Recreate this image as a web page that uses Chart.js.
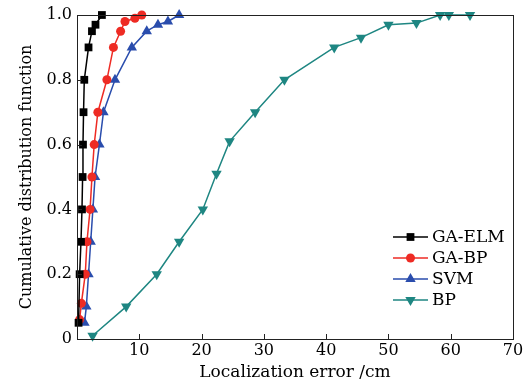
<!DOCTYPE html>
<html>
<head>
<meta charset="utf-8">
<script src="https://cdn.jsdelivr.net/npm/chart.js@4/dist/chart.umd.min.js"></script>
<style>
  html, body { margin: 0; padding: 0; background: #fff; }
  #wrap { width: 530px; height: 383px; }
</style>
</head>
<body>
<div id="wrap"><canvas id="cdf" width="530" height="383"></canvas></div>
<script>
// series (x: localization error in cm, y: cumulative probability)
const seriesNames = ['GA-ELM', 'GA-BP', 'SVM', 'BP'];

const gaElmX = [0.25, 0.42, 0.64, 0.8, 0.9, 0.96, 1.05, 1.17, 1.85, 2.4, 2.97, 4.0];
const gaElmY = [0.05, 0.2, 0.3, 0.4, 0.5, 0.6, 0.7, 0.8, 0.9, 0.95, 0.97, 1.0];

const gaBpX = [0.42, 0.7, 1.33, 1.6, 2.1, 2.4, 2.76, 3.35, 4.8, 5.85, 7.0, 7.7, 9.3, 10.4];
const gaBpY = [0.06, 0.11, 0.2, 0.3, 0.4, 0.5, 0.6, 0.7, 0.8, 0.9, 0.95, 0.98, 0.99, 1.0];

const svmX = [1.2, 1.5, 1.85, 2.2, 2.55, 2.9, 3.6, 4.25, 6.1, 8.8, 11.2, 13.0, 14.6, 16.4];
const svmY = [0.05, 0.1, 0.2, 0.3, 0.4, 0.5, 0.6, 0.7, 0.8, 0.9, 0.95, 0.97, 0.98, 1.0];

const bpX = [2.5, 7.9, 12.8, 16.4, 20.2, 22.4, 24.5, 28.6, 33.3, 41.3, 45.6, 50.0, 54.5, 58.3, 59.7, 63.1];
const bpY = [0.01, 0.1, 0.2, 0.3, 0.4, 0.51, 0.61, 0.7, 0.8, 0.9, 0.93, 0.97, 0.975, 1.0, 1.0, 1.0];

const xTicks = [0, 10, 20, 30, 40, 50, 60, 70];
const yTicks = [0, 0.2, 0.4, 0.6, 0.8, 1.0];

const SERIF = "'DejaVu Serif', serif";

function pts(xs, ys) {
  return xs.map((x, i) => ({ x, y: ys[i] }));
}

function serie(label, xs, ys, color, style, radius, rotation) {
  return {
    label,
    data: pts(xs, ys),
    showLine: true,
    borderColor: color,
    backgroundColor: color,
    borderWidth: 1.5,
    pointStyle: style,
    pointRadius: radius,
    pointRotation: rotation || 0,
    pointBorderWidth: 0,
    pointBackgroundColor: color,
    clip: false,
  };
}

// moldura + ticks para dentro + legenda dentro do gráfico
const framePlugin = {
  id: 'frame',
  afterDraw(chart) {
    const { ctx, chartArea: a, scales } = chart;
    ctx.save();
    ctx.strokeStyle = '#222';
    ctx.lineWidth = 1;
    ctx.strokeRect(a.left + 0.5, a.top + 0.5, a.right - a.left, a.bottom - a.top);

    ctx.beginPath();
    xTicks.slice(1, -1).forEach(v => {
      const px = Math.round(scales.x.getPixelForValue(v)) + 0.5;
      ctx.moveTo(px, a.bottom);
      ctx.lineTo(px, a.bottom - 5);
    });
    yTicks.slice(1, -1).forEach(v => {
      const py = Math.round(scales.y.getPixelForValue(v)) + 0.5;
      ctx.moveTo(a.left, py);
      ctx.lineTo(a.left + 5, py);
    });
    ctx.stroke();

    // legenda
    const lx0 = 393, lx1 = 428, tx = 432;
    const rowY = [237, 258, 279, 300];
    ctx.font = '17px ' + SERIF;
    ctx.textBaseline = 'middle';
    ctx.textAlign = 'left';
    chart.data.datasets.forEach((ds, i) => {
      const y = rowY[i];
      ctx.strokeStyle = ds.borderColor;
      ctx.lineWidth = ds.borderWidth;
      ctx.beginPath();
      ctx.moveTo(lx0, y);
      ctx.lineTo(lx1, y);
      ctx.stroke();
      ctx.fillStyle = ds.backgroundColor;
      Chart.helpers.drawPoint(ctx, {
        pointStyle: ds.pointStyle,
        rotation: ds.pointRotation,
        radius: ds.pointRadius,
        borderWidth: 0,
      }, (lx0 + lx1) / 2, y);
      ctx.fillStyle = '#000';
      ctx.fillText(ds.label, tx, y + 1);
    });
    ctx.restore();
  }
};

const ctx = document.getElementById('cdf').getContext('2d');
new Chart(ctx, {
  type: 'scatter',
  data: {
    datasets: [
      serie(seriesNames[0], gaElmX, gaElmY, '#000000', 'rect', 5.5),
      serie(seriesNames[1], gaBpX, gaBpY, '#ee2b24', 'circle', 4.5),
      serie(seriesNames[2], svmX, svmY, '#2a4dad', 'triangle', 6),
      serie(seriesNames[3], bpX, bpY, '#1e8682', 'triangle', 6, 180),
    ]
  },
  options: {
    responsive: false,
    animation: false,
    layout: { padding: { left: 0, top: 15, right: 17, bottom: 0 } },
    plugins: {
      legend: { display: false },
      tooltip: { enabled: false },
    },
    scales: {
      x: {
        type: 'linear',
        min: 0,
        max: 70,
        afterFit: s => { s.height = 44; },
        afterBuildTicks: s => { s.ticks = xTicks.map(v => ({ value: v })); },
        ticks: {
          color: '#000',
          font: { family: SERIF, size: 16 },
          padding: 2,
          maxRotation: 0,
          callback: v => v === 0 ? '' : String(v),
        },
        grid: { display: false, drawTicks: false },
        border: { display: false },
        title: {
          display: true,
          text: 'Localization error /cm',
          color: '#000',
          font: { family: SERIF, size: 17 },
          padding: { top: 0, bottom: 0 },
        },
      },
      y: {
        type: 'linear',
        min: 0,
        max: 1,
        afterFit: s => { s.width = 77; },
        afterBuildTicks: s => { s.ticks = yTicks.map(v => ({ value: v })); },
        ticks: {
          color: '#000',
          font: { family: SERIF, size: 16 },
          padding: 5,
          callback: v => v === 0 ? '0' : v.toFixed(1),
        },
        grid: { display: false, drawTicks: false },
        border: { display: false },
        title: {
          display: true,
          text: 'Cumulative distribution function',
          color: '#000',
          font: { family: SERIF, size: 16 },
          padding: { top: 17, bottom: 0 },
        },
      },
    },
  },
  plugins: [framePlugin],
});
</script>
</body>
</html>
